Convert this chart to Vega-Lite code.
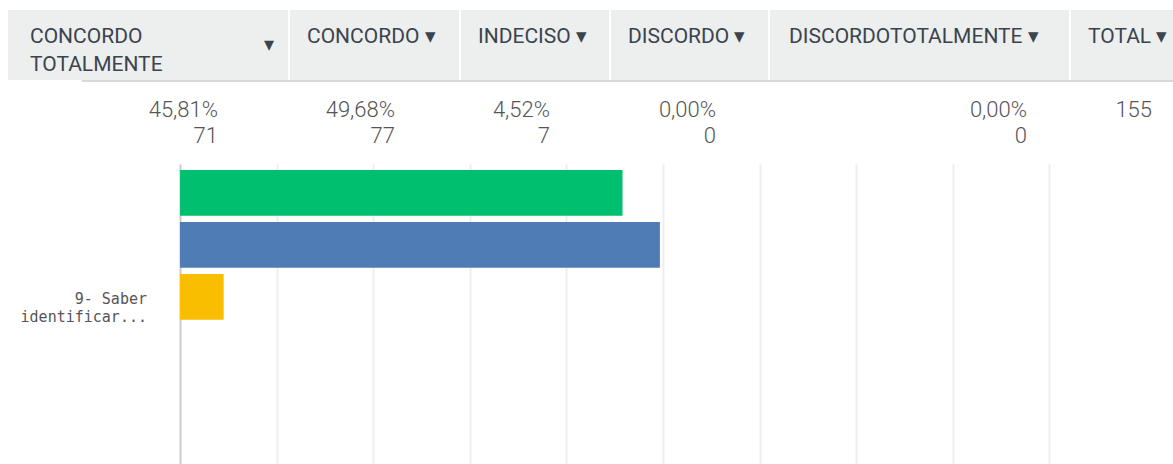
{
  "$schema": "https://vega.github.io/schema/vega-lite/v6.json",
  "padding": {"left": 8, "top": 10, "right": 0, "bottom": 0},
  "background": "white",
  "config": {
    "view": {"stroke": null},
    "font": "Roboto",
    "locale": {"number": {"decimal": ",", "thousands": ".", "grouping": [3], "currency": ["", ""]}}
  },
  "datasets": {
    "survey": [
      {"question": "9- Saber identificar...", "answer": "CONCORDO TOTALMENTE", "pct": 0.4581, "n": 71},
      {"question": "9- Saber identificar...", "answer": "CONCORDO", "pct": 0.4968, "n": 77},
      {"question": "9- Saber identificar...", "answer": "INDECISO", "pct": 0.0452, "n": 7},
      {"question": "9- Saber identificar...", "answer": "DISCORDO", "pct": 0.0, "n": 0},
      {"question": "9- Saber identificar...", "answer": "DISCORDOTOTALMENTE", "pct": 0.0, "n": 0},
      {"question": "9- Saber identificar...", "answer": "TOTAL", "pct": null, "n": 155}
    ]
  },
  "spacing": 0,
  "vconcat": [
    {
      "spacing": 2,
      "bounds": "flush",
      "hconcat": [
        {
          "width": 280, "height": 70, "view": {"fill": "#edeeee", "stroke": null},
          "data": {"name": "survey"},
          "transform": [{"filter": "datum.answer === 'CONCORDO TOTALMENTE'"}],
          "layer": [
            {"mark": {"type": "text", "align": "left", "baseline": "top", "dx": 22, "dy": -19, "fontSize": 21, "fontWeight": 400, "lineBreak": " ", "lineHeight": 28, "color": "#3a444d"},
             "encoding": {"x": {"field": "answer", "type": "nominal", "bandPosition": 0, "axis": null, "scale": {"type": "band", "paddingInner": 0, "paddingOuter": 0}}, "text": {"field": "answer"}}},
            {"mark": {"type": "text", "text": "▾", "align": "right", "baseline": "middle", "dx": -14, "dy": 0, "fontSize": 20, "font": "DejaVu Sans", "color": "#3a444d"},
             "encoding": {"x": {"field": "answer", "type": "nominal", "bandPosition": 1, "axis": null, "scale": {"type": "band", "paddingInner": 0, "paddingOuter": 0}}}}
          ]
        },
        {
          "width": 169, "height": 70, "view": {"fill": "#edeeee", "stroke": null},
          "data": {"name": "survey"},
          "transform": [{"filter": "datum.answer === 'CONCORDO'"}, {"calculate": "datum.answer + ' ▾'", "as": "label"}],
          "mark": {"type": "text", "align": "left", "baseline": "top", "dx": 17, "dy": -19, "fontSize": 21, "fontWeight": 400, "color": "#3a444d"},
          "encoding": {"x": {"field": "answer", "type": "nominal", "bandPosition": 0, "axis": null, "scale": {"type": "band", "paddingInner": 0, "paddingOuter": 0}}, "text": {"field": "label"}}
        },
        {
          "width": 148, "height": 70, "view": {"fill": "#edeeee", "stroke": null},
          "data": {"name": "survey"},
          "transform": [{"filter": "datum.answer === 'INDECISO'"}, {"calculate": "datum.answer + ' ▾'", "as": "label"}],
          "mark": {"type": "text", "align": "left", "baseline": "top", "dx": 17, "dy": -19, "fontSize": 21, "fontWeight": 400, "color": "#3a444d"},
          "encoding": {"x": {"field": "answer", "type": "nominal", "bandPosition": 0, "axis": null, "scale": {"type": "band", "paddingInner": 0, "paddingOuter": 0}}, "text": {"field": "label"}}
        },
        {
          "width": 157, "height": 70, "view": {"fill": "#edeeee", "stroke": null},
          "data": {"name": "survey"},
          "transform": [{"filter": "datum.answer === 'DISCORDO'"}, {"calculate": "datum.answer + ' ▾'", "as": "label"}],
          "mark": {"type": "text", "align": "left", "baseline": "top", "dx": 17, "dy": -19, "fontSize": 21, "fontWeight": 400, "color": "#3a444d"},
          "encoding": {"x": {"field": "answer", "type": "nominal", "bandPosition": 0, "axis": null, "scale": {"type": "band", "paddingInner": 0, "paddingOuter": 0}}, "text": {"field": "label"}}
        },
        {
          "width": 299, "height": 70, "view": {"fill": "#edeeee", "stroke": null},
          "data": {"name": "survey"},
          "transform": [{"filter": "datum.answer === 'DISCORDOTOTALMENTE'"}, {"calculate": "datum.answer + ' ▾'", "as": "label"}],
          "mark": {"type": "text", "align": "left", "baseline": "top", "dx": 19, "dy": -19, "fontSize": 21, "fontWeight": 400, "color": "#3a444d"},
          "encoding": {"x": {"field": "answer", "type": "nominal", "bandPosition": 0, "axis": null, "scale": {"type": "band", "paddingInner": 0, "paddingOuter": 0}}, "text": {"field": "label"}}
        },
        {
          "width": 102, "height": 70, "view": {"fill": "#edeeee", "stroke": null},
          "data": {"name": "survey"},
          "transform": [{"filter": "datum.answer === 'TOTAL'"}, {"calculate": "datum.answer + ' ▾'", "as": "label"}],
          "mark": {"type": "text", "align": "left", "baseline": "top", "dx": 17, "dy": -19, "fontSize": 21, "fontWeight": 400, "color": "#3a444d"},
          "encoding": {"x": {"field": "answer", "type": "nominal", "bandPosition": 0, "axis": null, "scale": {"type": "band", "paddingInner": 0, "paddingOuter": 0}}, "text": {"field": "label"}}
        }
      ]
    },
    {
      "spacing": 2,
      "bounds": "flush",
      "hconcat": [
        {
          "width": 72, "height": 2, "view": {"fill": "#ffffff", "stroke": null},
          "data": {"values": [{}]},
          "mark": {"type": "rect", "color": "#ffffff"},
          "encoding": {}
        },
        {
          "width": 1091, "height": 2, "view": {"fill": "#d6d8d9", "stroke": null},
          "data": {"values": [{}]},
          "mark": {"type": "rect", "color": "#d6d8d9"},
          "encoding": {}
        }
      ]
    },
    {
      "spacing": 2,
      "bounds": "flush",
      "hconcat": [
        {
          "width": 280, "height": 82, "view": {"fill": "#ffffff", "stroke": null},
          "data": {"name": "survey"},
          "transform": [{"filter": "datum.answer === 'CONCORDO TOTALMENTE'"}],
          "encoding": {"x": {"field": "answer", "type": "nominal", "bandPosition": 1, "axis": null, "scale": {"type": "band", "paddingInner": 0, "paddingOuter": 0}}},
          "layer": [
            {"mark": {"type": "text", "align": "right", "baseline": "alphabetic", "dx": -70, "dy": -6, "fontSize": 22, "fontWeight": 300, "color": "#555555"}, "encoding": {"text": {"field": "pct", "type": "quantitative", "format": ".2%"}}},
            {"mark": {"type": "text", "align": "right", "baseline": "alphabetic", "dx": -70, "dy": 20, "fontSize": 22, "fontWeight": 300, "color": "#555555"}, "encoding": {"text": {"field": "n", "type": "quantitative"}}}
          ]
        },
        {
          "width": 169, "height": 82, "view": {"fill": "#ffffff", "stroke": null},
          "data": {"name": "survey"},
          "transform": [{"filter": "datum.answer === 'CONCORDO'"}],
          "encoding": {"x": {"field": "answer", "type": "nominal", "bandPosition": 1, "axis": null, "scale": {"type": "band", "paddingInner": 0, "paddingOuter": 0}}},
          "layer": [
            {"mark": {"type": "text", "align": "right", "baseline": "alphabetic", "dx": -64, "dy": -6, "fontSize": 22, "fontWeight": 300, "color": "#555555"}, "encoding": {"text": {"field": "pct", "type": "quantitative", "format": ".2%"}}},
            {"mark": {"type": "text", "align": "right", "baseline": "alphabetic", "dx": -64, "dy": 20, "fontSize": 22, "fontWeight": 300, "color": "#555555"}, "encoding": {"text": {"field": "n", "type": "quantitative"}}}
          ]
        },
        {
          "width": 148, "height": 82, "view": {"fill": "#ffffff", "stroke": null},
          "data": {"name": "survey"},
          "transform": [{"filter": "datum.answer === 'INDECISO'"}],
          "encoding": {"x": {"field": "answer", "type": "nominal", "bandPosition": 1, "axis": null, "scale": {"type": "band", "paddingInner": 0, "paddingOuter": 0}}},
          "layer": [
            {"mark": {"type": "text", "align": "right", "baseline": "alphabetic", "dx": -59, "dy": -6, "fontSize": 22, "fontWeight": 300, "color": "#555555"}, "encoding": {"text": {"field": "pct", "type": "quantitative", "format": ".2%"}}},
            {"mark": {"type": "text", "align": "right", "baseline": "alphabetic", "dx": -59, "dy": 20, "fontSize": 22, "fontWeight": 300, "color": "#555555"}, "encoding": {"text": {"field": "n", "type": "quantitative"}}}
          ]
        },
        {
          "width": 157, "height": 82, "view": {"fill": "#ffffff", "stroke": null},
          "data": {"name": "survey"},
          "transform": [{"filter": "datum.answer === 'DISCORDO'"}],
          "encoding": {"x": {"field": "answer", "type": "nominal", "bandPosition": 1, "axis": null, "scale": {"type": "band", "paddingInner": 0, "paddingOuter": 0}}},
          "layer": [
            {"mark": {"type": "text", "align": "right", "baseline": "alphabetic", "dx": -52, "dy": -6, "fontSize": 22, "fontWeight": 300, "color": "#555555"}, "encoding": {"text": {"field": "pct", "type": "quantitative", "format": ".2%"}}},
            {"mark": {"type": "text", "align": "right", "baseline": "alphabetic", "dx": -52, "dy": 20, "fontSize": 22, "fontWeight": 300, "color": "#555555"}, "encoding": {"text": {"field": "n", "type": "quantitative"}}}
          ]
        },
        {
          "width": 299, "height": 82, "view": {"fill": "#ffffff", "stroke": null},
          "data": {"name": "survey"},
          "transform": [{"filter": "datum.answer === 'DISCORDOTOTALMENTE'"}],
          "encoding": {"x": {"field": "answer", "type": "nominal", "bandPosition": 1, "axis": null, "scale": {"type": "band", "paddingInner": 0, "paddingOuter": 0}}},
          "layer": [
            {"mark": {"type": "text", "align": "right", "baseline": "alphabetic", "dx": -42, "dy": -6, "fontSize": 22, "fontWeight": 300, "color": "#555555"}, "encoding": {"text": {"field": "pct", "type": "quantitative", "format": ".2%"}}},
            {"mark": {"type": "text", "align": "right", "baseline": "alphabetic", "dx": -42, "dy": 20, "fontSize": 22, "fontWeight": 300, "color": "#555555"}, "encoding": {"text": {"field": "n", "type": "quantitative"}}}
          ]
        },
        {
          "width": 102, "height": 82, "view": {"fill": "#ffffff", "stroke": null},
          "data": {"name": "survey"},
          "transform": [{"filter": "datum.answer === 'TOTAL'"}],
          "mark": {"type": "text", "align": "right", "baseline": "alphabetic", "dx": -21, "dy": -6, "fontSize": 22, "fontWeight": 300, "color": "#555555"},
          "encoding": {"x": {"field": "answer", "type": "nominal", "bandPosition": 1, "axis": null, "scale": {"type": "band", "paddingInner": 0, "paddingOuter": 0}}, "text": {"field": "n", "type": "quantitative"}}
        }
      ]
    },
    {
      "spacing": 0,
      "bounds": "flush",
      "hconcat": [
        {
          "width": 172, "height": 300, "view": {"fill": "#ffffff", "stroke": null},
          "data": {"name": "survey"},
          "transform": [{"filter": "datum.answer === 'CONCORDO TOTALMENTE'"}, {"calculate": "split(replace(datum.question, 'Saber ', 'Saber|'), '|')", "as": "qlabel"}],
          "mark": {"type": "text", "align": "right", "baseline": "middle", "dx": -33, "dy": 2, "font": "DejaVu Sans Mono", "fontSize": 15, "lineHeight": 18, "color": "#555555"},
          "encoding": {
            "x": {"field": "question", "type": "nominal", "bandPosition": 1, "axis": null, "scale": {"type": "band", "paddingInner": 0, "paddingOuter": 0}},
            "y": {"field": "question", "type": "nominal", "axis": null, "scale": {"type": "band", "paddingInner": 0, "paddingOuter": 0.064, "align": 0}},
            "text": {"field": "qlabel"}
          }
        },
        {
          "width": 966,
          "height": 300,
          "data": {"name": "survey"},
          "transform": [{"filter": "datum.answer !== 'TOTAL'"}],
          "mark": {"type": "bar"},
          "encoding": {
            "y": {
              "field": "question", "type": "nominal", "title": null,
              "scale": {"paddingInner": 0, "paddingOuter": 0.064, "align": 0},
              "axis": {"ticks": false, "labels": false, "domain": true, "domainColor": "#cccccc", "domainWidth": 2}
            },
            "yOffset": {
              "field": "answer", "type": "nominal",
              "sort": ["CONCORDO TOTALMENTE", "CONCORDO", "INDECISO", "DISCORDO", "DISCORDOTOTALMENTE"],
              "scale": {"paddingInner": 0.12, "paddingOuter": 0.1175}
            },
            "x": {
              "field": "pct", "type": "quantitative", "title": null,
              "scale": {"domain": [0, 1]},
              "axis": {"values": [0.1, 0.2, 0.3, 0.4, 0.5, 0.6, 0.7, 0.8, 0.9], "labels": false, "ticks": false, "domain": false, "grid": true, "gridColor": "#eeeeee", "gridWidth": 2}
            },
            "color": {
              "field": "answer", "type": "nominal", "legend": null,
              "scale": {
                "domain": ["CONCORDO TOTALMENTE", "CONCORDO", "INDECISO", "DISCORDO", "DISCORDOTOTALMENTE"],
                "range": ["#00bf6f", "#507cb6", "#f9be00", "#6bc8cd", "#ff8b4f"]
              }
            }
          }
        }
      ]
    }
  ]
}
